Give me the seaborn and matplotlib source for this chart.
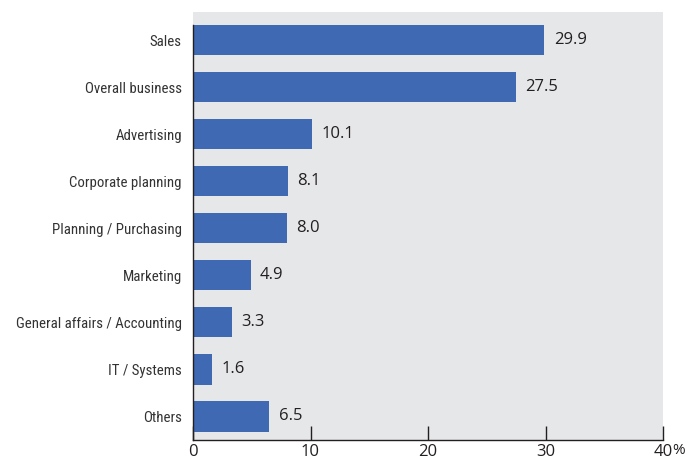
import matplotlib
matplotlib.use("Agg")
import matplotlib.pyplot as plt
import seaborn as sns
import pandas as pd

categories = ["Sales", "Overall business", "Advertising", "Corporate planning",
              "Planning / Purchasing", "Marketing", "General affairs / Accounting",
              "IT / Systems", "Others"]
values = [29.9, 27.5, 10.1, 8.1, 8.0, 4.9, 3.3, 1.6, 6.5]
xticks = [0, 10, 20, 30, 40]

df = pd.DataFrame({"category": categories, "value": values})

sns.set_theme(style="white")
plt.rcParams['font.family'] = ['Roboto Condensed', 'Liberation Sans Narrow',
                               'Liberation Sans', 'DejaVu Sans']

fig = plt.figure(figsize=(6.88, 4.62), dpi=100)
ax = fig.add_axes([193/688, 22/462, 470/688, 428/462])
ax.set_facecolor("#E6E7E9")

sns.barplot(data=df, x="value", y="category", orient="h", color="#3F69B2",
            saturation=1, width=0.64, linewidth=0, ax=ax)

ax.set_xlim(0, 40)
ax.set_ylim(8.5, -0.6)
ax.set_xlabel("")
ax.set_ylabel("")

for i, v in enumerate(values):
    ax.text(v + 0.8, i, f"{v:.1f}", va="center", ha="left", fontsize=12,
            fontweight="medium", color="#231F20", family=["Open Sans", "DejaVu Sans"])

ax.set_xticks(xticks)
ax.set_xticklabels([str(t) for t in xticks], fontsize=12, color="#231F20",
                   family=["Open Sans", "DejaVu Sans"])
ax.tick_params(axis="x", bottom=True, direction="in", length=10, width=1,
               color="#231F20", pad=3)
ax.tick_params(axis="y", left=False, length=0, pad=8, labelsize=10.7,
               labelcolor="#333333")
ax.text(40.75, -3.5/428, "%", transform=ax.get_xaxis_transform(), fontsize=11,
        color="#231F20", va="top", ha="left", family=["Open Sans", "DejaVu Sans"])

for s in ["top", "right"]:
    ax.spines[s].set_visible(False)
ax.spines["left"].set_color("#231F20")
ax.spines["bottom"].set_color("#231F20")
ax.spines["left"].set_linewidth(1)
ax.spines["bottom"].set_linewidth(1)
ax.spines["left"].set_bounds(8.5, -0.32)

fig.savefig("out.png", dpi=100, facecolor="white")
